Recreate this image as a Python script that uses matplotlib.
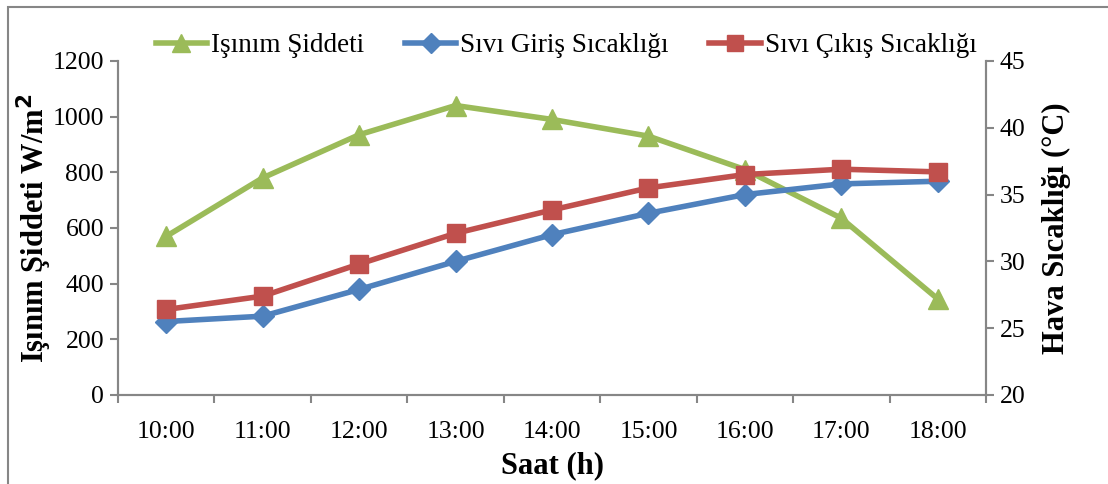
import numpy as np
import matplotlib
matplotlib.use('Agg')
import matplotlib.pyplot as plt
from matplotlib.patches import Rectangle

hours = ['10:00', '11:00', '12:00', '13:00', '14:00', '15:00', '16:00', '17:00', '18:00']
isinim = [570, 780, 935, 1040, 990, 930, 810, 635, 345]
sivi_giris = [25.5, 25.9, 27.9, 30.0, 32.0, 33.6, 35.0, 35.8, 36.0]
sivi_cikis = [26.4, 27.4, 29.8, 32.1, 33.85, 35.5, 36.5, 36.9, 36.7]

green = '#9BBB59'
blue = '#4F81BD'
red = '#C0504D'
grey = '#868686'

plt.rcParams['font.family'] = ['Liberation Serif', 'DejaVu Serif']
plt.rcParams['font.size'] = 18.5

fig = plt.figure(figsize=(11.08, 4.84), dpi=100)
ax = fig.add_axes([0.1065, 0.1839, 0.7834, 0.6901])
ax2 = ax.twinx()

x = np.arange(len(hours)) + 0.5

# green on the lower axes so the temperature lines sit above it
l1, = ax.plot(x, isinim, color=green, lw=4, marker='^', ms=15, label='Işınım Şiddeti')
l2, = ax2.plot(x, sivi_giris, color=blue, lw=4, marker='D', ms=11, label='Sıvı Giriş Sıcaklığı')
l3, = ax2.plot(x, sivi_cikis, color=red, lw=4, marker='s', ms=13, label='Sıvı Çıkış Sıcaklığı')

ax.set_xlim(0, len(hours))
ax.set_ylim(0, 1200)
ax.set_yticks(range(0, 1201, 200))
ax2.set_ylim(20, 45)
ax2.set_yticks(range(20, 46, 5))

ax.set_xticks(np.arange(len(hours) + 1))
ax.set_xticklabels([])
ax.set_xticks(x, minor=True)
ax.set_xticklabels(hours, minor=True)
ax.tick_params(axis='x', which='minor', length=0, pad=19)
ax.tick_params(axis='x', which='major', length=6, width=1.5, color=grey, direction='out')
ax.tick_params(axis='y', length=6, width=1.5, color=grey, direction='out', pad=4)
ax2.tick_params(axis='y', length=6, width=1.5, color=grey, direction='out', pad=4)

for a in (ax, ax2):
    a.spines['top'].set_visible(False)
    for s in ('left', 'right', 'bottom'):
        a.spines[s].set_color(grey)
        a.spines[s].set_linewidth(1.5)

ax.set_xlabel('Saat (h)', fontsize=22, fontweight='bold', labelpad=6)
ax.set_ylabel('Işınım Şiddeti W/m$^\\mathbf{2}$', fontsize=22, fontweight='bold', labelpad=-1)
ax2.set_ylabel('Hava Sıcaklığı (°C)', fontsize=22, fontweight='bold', labelpad=12)

fig.legend(handles=[l1, l2, l3], loc='center', bbox_to_anchor=(0.511, 0.905), ncol=3,
           frameon=False, handlelength=1.9, columnspacing=1.5, handletextpad=0.15,
           fontsize=19.5, markerscale=0.9)

fig.add_artist(Rectangle((8 / 1108, -0.1), 1.2, 1 - 7 / 484 + 0.1, transform=fig.transFigure,
                         fill=False, edgecolor=grey, lw=1.5))

fig.savefig('out.png', dpi=100)
